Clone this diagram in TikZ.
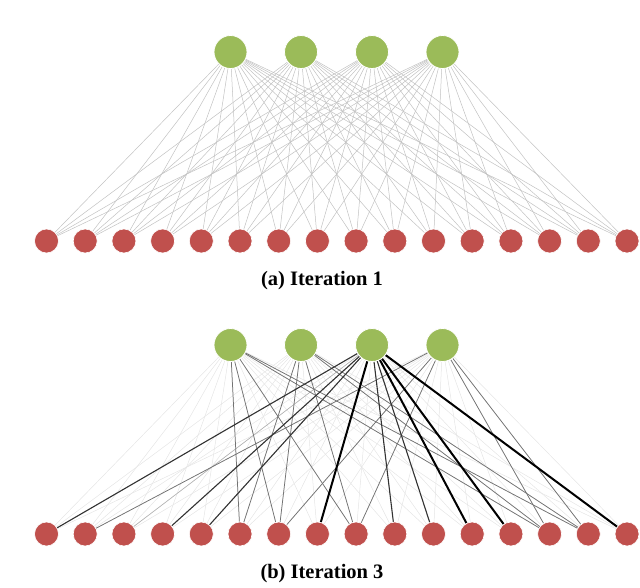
\documentclass[tikz,border=0pt]{standalone}
\usepackage{fontspec}
\setmainfont{Liberation Serif}
\usetikzlibrary{backgrounds}
\definecolor{topgreen}{HTML}{9BBB59}
\definecolor{botred}{HTML}{C0504D}
\begin{document}
\begin{tikzpicture}[x=1pt,y=-1pt,
  topn/.style={circle,fill=topgreen,draw=white,line width=0.8pt,minimum size=33pt,inner sep=0pt},
  botn/.style={circle,fill=botred,draw=white,line width=0.6pt,minimum size=24pt,inner sep=0pt},
  edgea/.style={draw=black!24,line width=0.5pt},
  edgez/.style={draw=black!10,line width=0.5pt},
  edgel/.style={draw=black!30,line width=0.6pt},
  edgem/.style={draw=black!55,line width=0.75pt},
  edged/.style={draw=black!80,line width=1.1pt},
  edget/.style={draw=black,line width=2pt},
  capt/.style={font=\fontsize{20.5}{24}\selectfont\bfseries,anchor=base,inner sep=0pt}]
\useasboundingbox (0,0) rectangle (640,587);
% top nodes
\foreach \i/\x in {1/230.5,2/301,3/372,4/442.5}{
  \node[topn] (a\i) at (\x,52) {};
  \node[topn] (b\i) at (\x,345) {};
}
% bottom nodes
\foreach \k in {1,...,16}{
  \pgfmathsetmacro\xx{46.5+38.7*(\k-1)}
  \node[botn] (A\k) at (\xx,241) {};
  \node[botn] (B\k) at (\xx,534) {};
}
\begin{pgfonlayer}{background}
% panel (a): all edges
\foreach \i in {1,...,4}{
  \foreach \k in {1,...,16}{
    \draw[edgea] (a\i) -- (A\k);
    \draw[edgez] (b\i) -- (B\k);
  }
}
% panel (b): weighted edges
\foreach \i/\k in {3/3}{\draw[edgel] (b\i) -- (B\k);}
\foreach \i/\k in {1/6,1/7,1/9,1/14,1/15,2/6,2/7,2/9,2/14,2/15,4/2,4/7,4/9,4/14,4/15}{\draw[edgem] (b\i) -- (B\k);}
\foreach \i/\k in {3/1,3/4,3/5,3/10,3/11}{\draw[edged] (b\i) -- (B\k);}
\foreach \i/\k in {3/8,3/12,3/13,3/16}{\draw[edget] (b\i) -- (B\k);}
\end{pgfonlayer}
\node[capt] (capa) at (322,285) {(a) Iteration 1};
\node[capt] (capb) at (322,578) {(b) Iteration 3};
\end{tikzpicture}
\end{document}
